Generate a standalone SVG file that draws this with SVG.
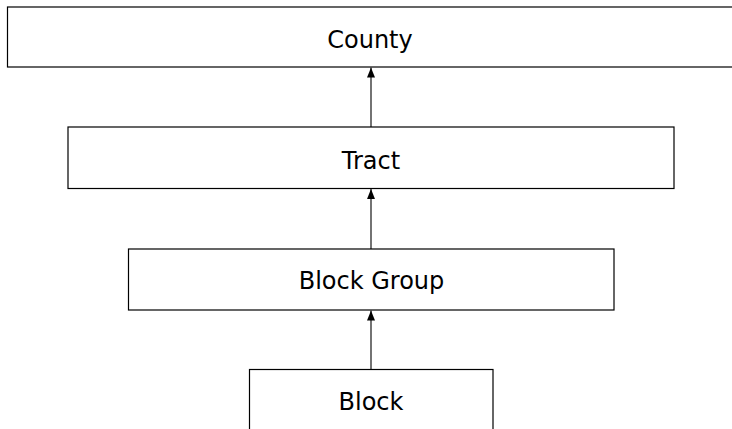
<svg xmlns="http://www.w3.org/2000/svg" width="732" height="429" viewBox="0 0 732 429">
<style>
.box{fill:#fff;stroke:#000;stroke-width:1.2}
.lbl{font-family:"DejaVu Sans",sans-serif;font-size:24px;fill:#000;text-anchor:middle}
.edge{stroke:#000;stroke-width:1.1;fill:none;marker-end:url(#ah)}
</style>
<defs>
<marker id="ah" markerUnits="userSpaceOnUse" markerWidth="10" markerHeight="10" viewBox="0 0 10 8" refX="10" refY="4" orient="auto">
<path d="M0,0 L10,4 L0,8 Z" fill="#000"/>
</marker>
</defs>
<rect width="732" height="429" fill="#fff"/>
<g id="county"><rect class="box" x="7.5" y="7" width="740" height="60"/><text class="lbl" x="370" y="48">County</text></g>
<g id="tract"><rect class="box" x="68" y="127" width="606" height="61.5"/><text class="lbl" x="371" y="168.5">Tract</text></g>
<g id="blockgroup"><rect class="box" x="128.5" y="249" width="485.5" height="61"/><text class="lbl" x="371.5" y="288.5">Block Group</text></g>
<g id="block"><rect class="box" x="249.5" y="369.5" width="243.5" height="80"/><text class="lbl" x="371" y="409.5">Block</text></g>
<g id="connectors">
<line class="edge" x1="371" y1="127" x2="371" y2="67.6"/>
<line class="edge" x1="371" y1="249" x2="371" y2="189.1"/>
<line class="edge" x1="371" y1="369.5" x2="371" y2="310.6"/>
</g>
</svg>
